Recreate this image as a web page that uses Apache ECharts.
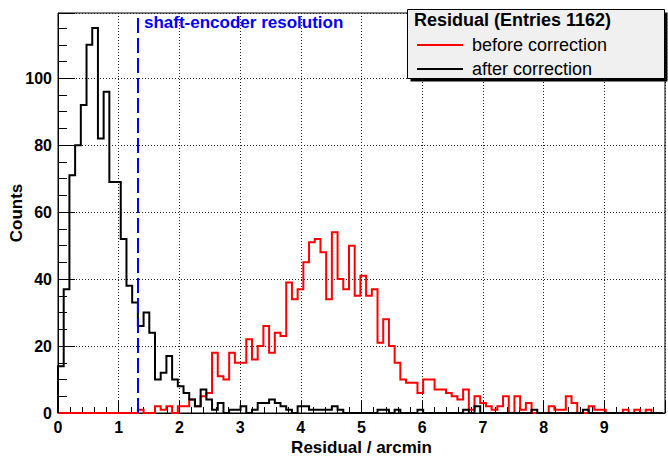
<!DOCTYPE html>
<html><head><meta charset="utf-8">
<script src="https://cdn.jsdelivr.net/npm/echarts@6/dist/echarts.min.js"></script>
<style>html,body{margin:0;padding:0;background:#fff}#c{width:668px;height:457px}</style>
</head><body><div id="c"></div>
<script>
// ---- data ----
const binWidth = 0.094;          // arcmin per bin
const shaftEncoderResolution = 1.32;
const seriesNames = ['before correction', 'after correction'];
const beforeCounts = [
  0,0,0,0,0,0,0,0,0,0, 0,0,0,0,1,0,0,2,1,2,
  0,2,2,4,2,5,6,18,11,10, 18,15,15,22,16,20,26,18,24,23,
  39,34,37,45,51,52,48,34,54,40, 37,50,35,41,35,37,21,28,20,15,
  10,9,9,6,10,10,7,7,6,5, 4,7,1,5,3,2,1,2,5,0,
  5,1,3,0,0,0,2,1,1,5, 3,0,0,2,1,1,0,0,0,1,
  0,1,0,1,0,0
];
const afterCounts = [
  14,37,71,80,92,110,115,82,96,69, 69,52,38,33,26,30,24,10,12,17,
  10,8,6,4,2,7,4,1,3,0, 1,1,2,0,1,3,3,4,3,2,
  1,0,2,2,1,1,1,1,2,1, 0,0,0,0,0,0,1,1,0,1,
  0,0,0,1,0,0,0,0,0,0, 0,1,0,2,0,0,0,0,0,0,
  0,0,0,1,0,0,0,0,0,0, 0,0,1,0,0,0,0,0,0,0,
  0,0,0,0,0,0
];
const xTickLabels = ['0','1','2','3','4','5','6','7','8','9'];
const yTickLabels = ['0','20','40','60','80','100'];
const legendTitle = 'Residual (Entries 1162)';
const annotation = 'shaft-encoder resolution';

function histPoints(counts) {
  const pts = [[0, 0]];
  counts.forEach((c, i) => pts.push([i * binWidth, c]));
  pts.push([counts.length * binWidth, 0]);
  return pts;
}

const FONT = '"Liberation Sans", Arial, Helvetica, sans-serif';
const chart = echarts.init(document.getElementById('c'), null, {renderer: 'svg'});
chart.setOption({
  animation: false,
  backgroundColor: '#fff',
  grid: {left: 58, right: 3, top: 13, bottom: 44, show: true, borderColor: '#000', borderWidth: 1,
    backgroundColor: 'transparent', containLabel: false, outerBoundsMode: 'none'},
  xAxis: {
    type: 'value', min: 0, max: 10, interval: 1,
    axisLine: {show: true, onZero: false, lineStyle: {color: '#000', width: 1}},
    axisTick: {show: true, inside: true, length: 12, lineStyle: {color: '#000', width: 1}},
    minorTick: {show: true, splitNumber: 5, length: 6, lineStyle: {color: '#000', width: 1}},
    axisLabel: {show: true, margin: 6, color: '#000', fontSize: 16, fontWeight: 'bold', fontFamily: FONT,
      formatter: v => xTickLabels.includes(String(v)) ? String(v) : ''},
    splitLine: {show: true, lineStyle: {color: '#222', width: 1, type: [1, 2]}},
    minorSplitLine: {show: false},
    name: 'Residual / arcmin', nameLocation: 'middle', nameGap: 26, nameMoveOverlap: false,
    nameTextStyle: {color: '#000', fontSize: 17, fontWeight: 'bold', fontFamily: FONT, lineHeight: 17}
  },
  yAxis: {
    type: 'value', min: 0, max: 119.5, interval: 20,
    axisLine: {show: true, onZero: false, lineStyle: {color: '#000', width: 1}},
    axisTick: {show: true, inside: true, length: 17, lineStyle: {color: '#000', width: 1}},
    minorTick: {show: true, splitNumber: 4, length: 9, lineStyle: {color: '#000', width: 1}},
    axisLabel: {show: true, margin: 6, color: '#000', fontSize: 16, fontWeight: 'bold', fontFamily: FONT,
      formatter: v => yTickLabels.includes(String(v)) ? String(v) : ''},
    splitLine: {show: true, lineStyle: {color: '#222', width: 1, type: [1, 2]}},
    name: 'Counts', nameLocation: 'middle', nameGap: 33, nameRotate: 90, nameMoveOverlap: false,
    nameTextStyle: {color: '#000', fontSize: 17, fontWeight: 'bold', fontFamily: FONT, lineHeight: 17}
  },
  legend: {
    show: true, orient: 'vertical', left: 412, top: 30, padding: 5,
    itemWidth: 46, itemHeight: 2, itemGap: 4, icon: 'rect',
    selectedMode: false, data: seriesNames,
    textStyle: {color: '#000', fontSize: 18, fontFamily: FONT, lineHeight: 20, padding: [0, 0, 0, 4]}
  },
  series: [
    {
      name: seriesNames[0], type: 'line', step: 'end', data: histPoints(beforeCounts),
      symbol: 'none', showSymbol: false, clip: true,
      lineStyle: {color: '#ff0000', width: 2, cap: 'butt', join: 'miter'},
      itemStyle: {color: '#ff0000'}
    },
    {
      name: seriesNames[1], type: 'line', step: 'end', data: histPoints(afterCounts),
      symbol: 'none', showSymbol: false, clip: true,
      lineStyle: {color: '#000000', width: 2, cap: 'butt', join: 'miter'},
      itemStyle: {color: '#000000'},
      markLine: {
        silent: true, symbol: ['none', 'none'], label: {show: false},
        lineStyle: {color: '#0000ff', width: 2, type: [15, 5]},
        data: [{xAxis: shaftEncoderResolution}]
      }
    }
  ],
  graphic: [
    {type: 'rect', z: 0, shape: {x: 410.5, y: 12.5, width: 257, height: 69}, style: {fill: '#000'}},
    {type: 'rect', z: 1, shape: {x: 407.5, y: 9.5, width: 257, height: 69}, style: {fill: '#f0f0f0', stroke: '#000', lineWidth: 1}},
    {type: 'text', z: 2, x: 414, y: 20, style: {text: legendTitle, fill: '#000', font: 'bold 18px ' + FONT, verticalAlign: 'middle'}},
    {type: 'text', z: 5, x: 144, y: 22, style: {text: annotation, fill: '#0000ff', font: 'bold 17px ' + FONT, verticalAlign: 'middle'}}
  ]
});
</script></body></html>
